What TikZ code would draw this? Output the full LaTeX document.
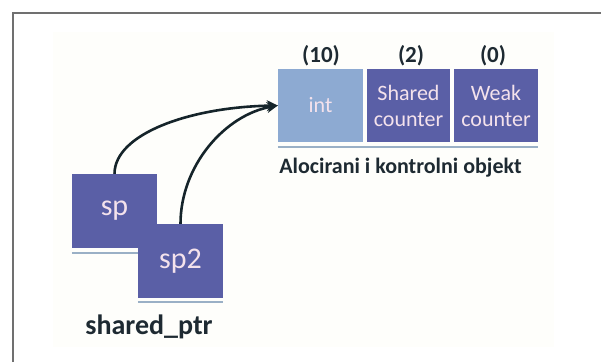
\documentclass[tikz,border=0pt]{standalone}
\usepackage{fontspec}
\setmainfont{Carlito}
\usetikzlibrary{arrows.meta}
\definecolor{darkbox}{HTML}{5A5FA6}
\definecolor{lightbox}{HTML}{8DAAD2}
\definecolor{boxtext}{HTML}{F4E2EC}
\definecolor{shadowline}{HTML}{9AB0C6}
\definecolor{labeltext}{HTML}{1E2A32}
\definecolor{arrowcol}{HTML}{15242A}
\definecolor{framecol}{HTML}{707070}
\definecolor{paper}{HTML}{FEFEFB}
\tikzset{
  memcell/.style={rectangle, draw=none, inner sep=0pt, text=boxtext,
    font=\fontsize{22}{26}\selectfont, align=center},
  ptrbox/.style={memcell, fill=darkbox, minimum width=85pt, minimum height=74pt,
    font=\fontsize{30}{34}\selectfont},
  countlabel/.style={text=labeltext, inner sep=0pt, font=\bfseries\fontsize{23}{26}\selectfont},
  caption/.style={text=labeltext, inner sep=0pt},
  pointer/.style={draw=arrowcol, line width=2.6pt, -{Stealth[length=11pt,width=11pt]}},
  strip/.style={draw=shadowline, line width=2.5pt}
}
\begin{document}
\begin{tikzpicture}[x=1pt,y=-1pt]
\useasboundingbox (0,0) rectangle (601,362);
\fill[white] (0,0) rectangle (601,362);
\fill[paper] (53,32) rectangle (554,347);
\draw[framecol, line width=2pt] (12.5,362) -- (12.5,12.5) -- (601,12.5);

% allocated object and control block
\node[memcell, fill=lightbox, minimum width=85pt, minimum height=73pt] (int) at (320.5,105.5) {int};
\node[memcell, fill=darkbox, minimum width=83pt, minimum height=73pt] (shared) at (408.5,105.5) {Shared\\counter};
\node[memcell, fill=darkbox, minimum width=84pt, minimum height=73pt] (weak) at (496,105.5) {Weak\\counter};
\draw[strip] ([yshift=-5pt]int.south west) -- ([yshift=-5pt]weak.south east);

\node[countlabel] (c10) at (321,56) {(10)};
\node[countlabel] (c2) at (411,56) {(2)};
\node[countlabel] (c0) at (493,56) {(0)};

\node[caption, font=\bfseries\fontsize{22}{25}\selectfont] (alloc) at (400.5,168) {Alocirani i kontrolni objekt};

% shared pointers
\node[ptrbox] (sp) at (114.5,211) {sp};
\draw[strip] ([yshift=-5pt]sp.south west) -- ([yshift=-5pt]sp.south east);
\node[ptrbox] (sp2) at (180.5,261) {sp2};
\draw[strip] ([yshift=-4pt]sp2.south west) -- ([yshift=-4pt]sp2.south east);

\node[caption, font=\bfseries\fontsize{28}{32}\selectfont] (sptr) at (149,327) {shared\_ptr};

% connectors
\draw[pointer] (sp.north) .. controls +(0,-40) and +(-88,1.5) .. (int.west);
\draw[pointer] (sp2.north) .. controls +(0,-58) and +(-53,9.5) .. (int.west);
\end{tikzpicture}
\end{document}
